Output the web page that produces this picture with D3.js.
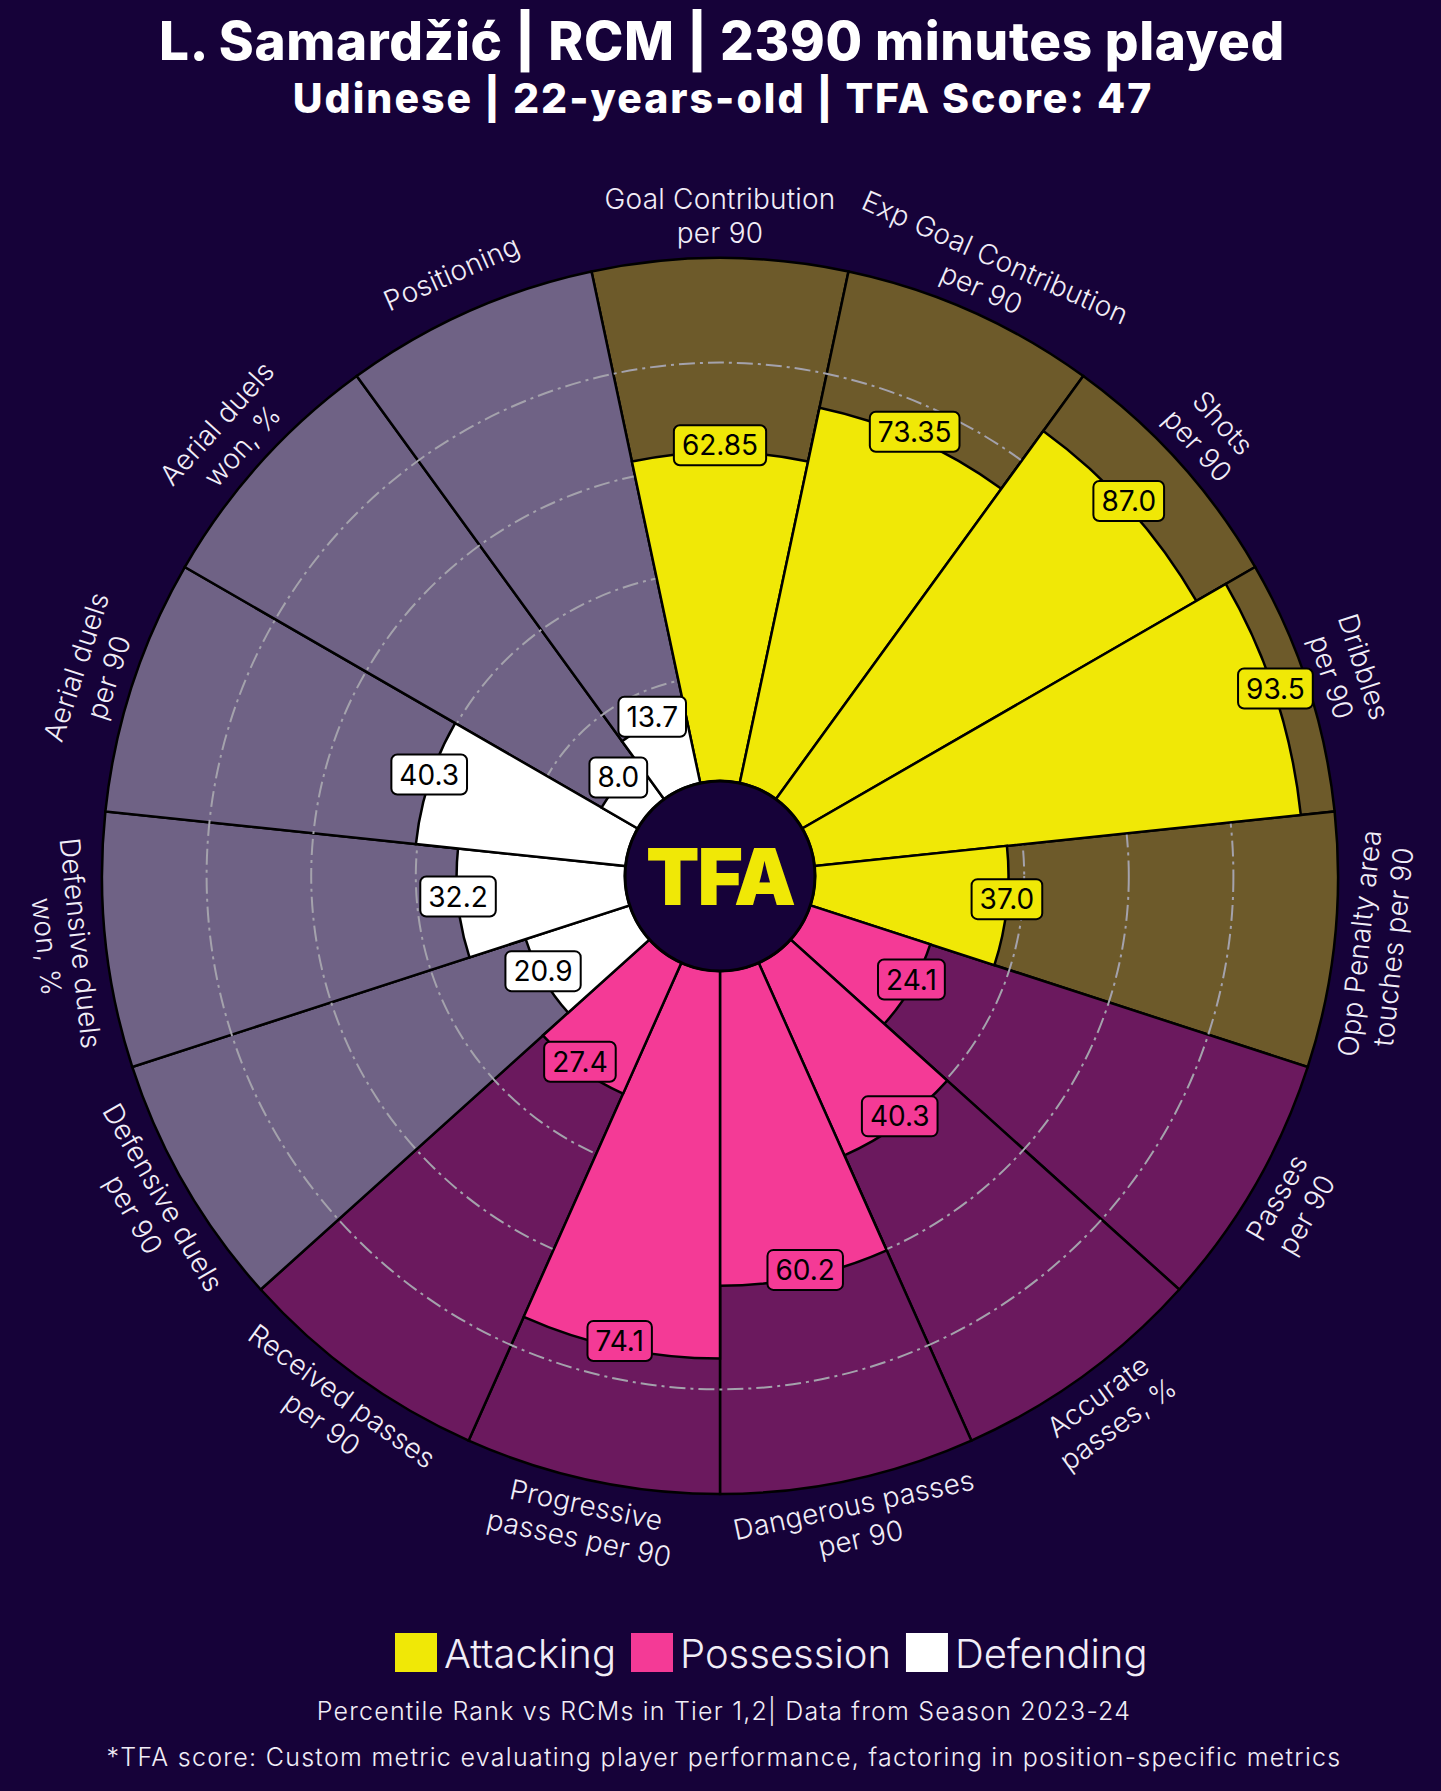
<html>
<head>
<script src="https://d3js.org/d3.v7.min.js"></script>
</head>

<style>
body { margin:0; background:#160239; }
text { font-family: Inter, "Open Sans", sans-serif; }
</style>

<body>
<script>

var width = 1441;
var height = 1791;

// data
var params = [
  "Goal Contribution\nper 90", "Exp Goal Contribution\nper 90", "Shots\nper 90",
  "Dribbles\nper 90", "Opp Penalty area\ntouches per 90", "Passes\nper 90",
  "Accurate\npasses, %", "Dangerous passes\nper 90", "Progressive\npasses per 90",
  "Received passes\nper 90", "Defensive duels\nper 90", "Defensive duels\nwon, %",
  "Aerial duels\nper 90", "Aerial duels\nwon, %", "Positioning"
];
var values = [62.85, 73.35, 87.0, 93.5, 37.0, 24.1, 40.3, 60.2, 74.1, 27.4, 20.9, 32.2, 40.3, 8.0, 13.7];
var groups = ["Attacking","Attacking","Attacking","Attacking","Attacking",
  "Possession","Possession","Possession","Possession","Possession",
  "Defending","Defending","Defending","Defending","Defending"];
var categories = ["Attacking", "Possession", "Defending"];
var ringTicks = [20, 40, 60, 80];

var title = "L. Samardžić | RCM | 2390 minutes played";
var subtitle = "Udinese | 22-years-old | TFA Score: 47";
var footer1 = "Percentile Rank vs RCMs in Tier 1,2| Data from Season 2023-24";
var footer2 = "*TFA score: Custom metric evaluating player performance, factoring in position-specific metrics";

var color = d3.scaleOrdinal().domain(categories).range(["#F0E806", "#F43A96", "#FFFFFF"]);
var bgColor = d3.scaleOrdinal().domain(categories).range(["#6D5A2A", "#6B195E", "#6F6285"]);

var cx = 720, cy = 876;
var n = params.length;

var x = d3.scaleBand()
    .domain(d3.range(n))
    .range([-Math.PI / n, 2 * Math.PI - Math.PI / n]);

var y = d3.scaleLinear()
    .domain([0, 100])
    .range([95, 618]);

var svg = d3.select("body").append("svg")
    .attr("width", width)
    .attr("height", height);

svg.append("rect").attr("width", width).attr("height", height).attr("fill", "#160239");

var g = svg.append("g").attr("transform", "translate(" + cx + "," + cy + ")");

var arc = d3.arc()
    .startAngle(function(d, i) { return x(i); })
    .endAngle(function(d, i) { return x(i) + x.bandwidth(); })
    .innerRadius(y(0));

// background slices
g.append("g").selectAll("path")
  .data(values)
  .enter().append("path")
    .attr("d", function(d, i) { return arc.outerRadius(y(100))(d, i); })
    .attr("fill", function(d, i) { return bgColor(groups[i]); })
    .attr("stroke", "#000")
    .attr("stroke-width", 2.5);

// dash-dot rings
g.append("g").selectAll("circle")
  .data(ringTicks)
  .enter().append("circle")
    .attr("r", function(d) { return y(d); })
    .attr("fill", "none")
    .attr("stroke", "#A4A2AC")
    .attr("stroke-width", 2)
    .attr("stroke-dasharray", "16,5,3,5");

// value slices
g.append("g").selectAll("path")
  .data(values)
  .enter().append("path")
    .attr("d", function(d, i) { return arc.outerRadius(y(d))(d, i); })
    .attr("fill", function(d, i) { return color(groups[i]); })
    .attr("stroke", "#000")
    .attr("stroke-width", 2.5);

// center logo
g.append("circle")
    .attr("r", 95)
    .attr("fill", "#160239")
    .attr("stroke", "#000")
    .attr("stroke-width", 3);

g.append("text")
    .attr("text-anchor", "middle")
    .attr("y", 29)
    .attr("fill", "#F0E806")
    .style("font-size", "78px")
    .style("font-weight", 900)
    .style("letter-spacing", "-2px")
    .text("TFA");

function mid(i) { return x(i) + x.bandwidth() / 2; }

// value boxes
var fmt = function(v) { return Number.isInteger(Math.round(v * 100) / 10) ? v.toFixed(1) : v.toFixed(2); };

var vlab = g.append("g").selectAll("g")
  .data(values)
  .enter().append("g")
    .attr("transform", function(d, i) {
      var a = mid(i), r = y(d);
      return "translate(" + (r * Math.sin(a)) + "," + (-r * Math.cos(a) - 7) + ")";
    });

vlab.append("rect");
vlab.append("text")
    .attr("text-anchor", "middle")
    .attr("y", 10)
    .attr("fill", "#000")
    .style("font-size", "28px")
    .text(function(d) { return fmt(d); });

vlab.each(function(d, i) {
  var el = d3.select(this);
  var w = el.select("text").node().getComputedTextLength() + 16;
  el.select("rect")
    .attr("x", -w / 2).attr("y", -20)
    .attr("width", w).attr("height", 40)
    .attr("rx", 6)
    .attr("fill", color(groups[i]))
    .attr("stroke", "#000")
    .attr("stroke-width", 2);
});

// parameter labels
var labR = 660, lineH = 34;
var plab = g.append("g").selectAll("text")
  .data(params)
  .enter().append("text")
    .attr("text-anchor", "middle")
    .attr("fill", "#F1EDF7")
    .style("font-size", "28px")
    .style("font-weight", 300)
    .style("letter-spacing", "0.2px")
    .attr("transform", function(d, i) {
      var a = mid(i);
      var deg = a * 180 / Math.PI;
      var rot = (deg > 90 && deg < 270) ? deg - 180 : (deg >= 270 ? deg - 360 : deg);
      return "translate(" + (labR * Math.sin(a)) + "," + (-labR * Math.cos(a)) + ") rotate(" + rot + ")";
    });

plab.each(function(d) {
  var lines = d.split("\n");
  var el = d3.select(this);
  lines.forEach(function(l, k) {
    el.append("tspan")
      .attr("x", 0)
      .attr("y", (k - (lines.length - 1) / 2) * lineH + 10)
      .text(l);
  });
});

// titles
svg.append("text")
    .attr("x", 722).attr("y", 60)
    .attr("text-anchor", "middle")
    .attr("fill", "#fff")
    .style("font-size", "53px")
    .style("font-weight", 800)
    .style("letter-spacing", "0.6px")
    .text(title);

svg.append("text")
    .attr("x", 723).attr("y", 113)
    .attr("text-anchor", "middle")
    .attr("fill", "#fff")
    .style("font-size", "41px")
    .style("font-weight", 800)
    .style("letter-spacing", "2px")
    .text(subtitle);

// legend
var legend = svg.append("g").attr("transform", "translate(395,1633)");
var lx = 0;
categories.forEach(function(c) {
  legend.append("rect")
    .attr("x", lx).attr("y", 0)
    .attr("width", 42).attr("height", 39)
    .attr("fill", color(c));
  var t = legend.append("text")
    .attr("x", lx + 49).attr("y", 35)
    .attr("fill", "#F1EDF7")
    .style("font-size", "40px")
    .style("font-weight", 300)
    .text(c);
  lx += 49 + t.node().getComputedTextLength() + 15;
});

svg.append("text")
    .attr("x", 724).attr("y", 1720)
    .attr("text-anchor", "middle")
    .attr("fill", "#F1EDF7")
    .style("font-size", "25px")
    .style("font-weight", 300)
    .style("letter-spacing", "1.2px")
    .text(footer1);

svg.append("text")
    .attr("x", 724).attr("y", 1766)
    .attr("text-anchor", "middle")
    .attr("fill", "#F1EDF7")
    .style("font-size", "25px")
    .style("font-weight", 300)
    .style("letter-spacing", "1.3px")
    .text(footer2);

</script>
</body>
</html>
